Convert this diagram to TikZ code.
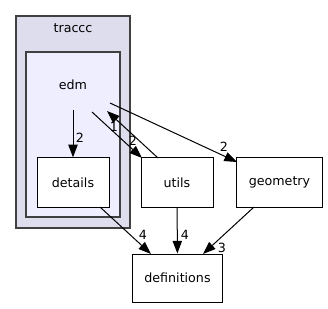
\documentclass[tikz,border=0pt]{standalone}
\usepackage{fontspec}
\setmainfont{DejaVu Sans}
\usetikzlibrary{arrows.meta}

\definecolor{clusterout}{HTML}{DDDDEE}
\definecolor{clusterin}{HTML}{EEEEFF}
\definecolor{clusterline}{HTML}{404040}

\begin{document}
\begin{tikzpicture}[x=0.75pt, y=-0.75pt, font=\fontsize{9.5}{11}\selectfont,
  dir/.style={draw, fill=white, line width=0.75pt, minimum height=37pt, inner sep=0pt},
  dep/.style={line width=0.75pt, -{Triangle[length=9.5pt, width=7pt]}},
  num/.style={inner sep=0pt}]
  \useasboundingbox (0,0) rectangle (328,308);

  % clusters
  \draw[fill=clusterout, draw=clusterline, line width=1pt] (16,16) rectangle (130,228);
  \draw[fill=clusterin, draw=clusterline, line width=1pt] (26,52) rectangle (120,217);
  \node (traccc) at (73,28) {traccc};
  \node (edm) at (73,85) {edm};

  % ends of the edges at the edm cluster
  \coordinate (edmd) at (73,110);
  \coordinate (edmu) at (92,112);
  \coordinate (edmin) at (107,111);
  \coordinate (edmg) at (110,103);

  \node[dir, minimum width=54pt] (details) at (73,182.5) {details};
  \node[dir, minimum width=54pt] (utils) at (177,182.5) {utils};
  \node[dir, minimum width=64pt] (geometry) at (279.5,182.5) {geometry};
  \node[dir, minimum width=68pt, minimum height=36pt] (definitions) at (177.5,278) {definitions};

  \coordinate (utilsin) at (142,158);
  \coordinate (utilsout) at (158,158);
  \coordinate (geomin) at (237,162);
  \coordinate (detout) at (100,207);
  \coordinate (geomout) at (254,207);
  \coordinate (defl) at (151,254);
  \coordinate (defr) at (203,254);

  \draw[dep] (edmd) -- (details);
  \draw[dep] (edmu) -- (utilsin);
  \draw[dep] (utilsout) -- (edmin);
  \draw[dep] (edmg) -- (geomin);
  \draw[dep] (detout) -- (defl);
  \draw[dep] (utils) -- (definitions);
  \draw[dep] (geomout) -- (defr);

  % edge counts
  \node[num] (n1) at (80,138) {2};
  \node[num] (n2) at (133,141) {2};
  \node[num] (n3) at (114,127) {1};
  \node[num] (n4) at (224,147) {2};
  \node[num] (n5) at (143,235) {4};
  \node[num] (n6) at (185,235) {4};
  \node[num] (n7) at (222,248) {3};
\end{tikzpicture}
\end{document}
